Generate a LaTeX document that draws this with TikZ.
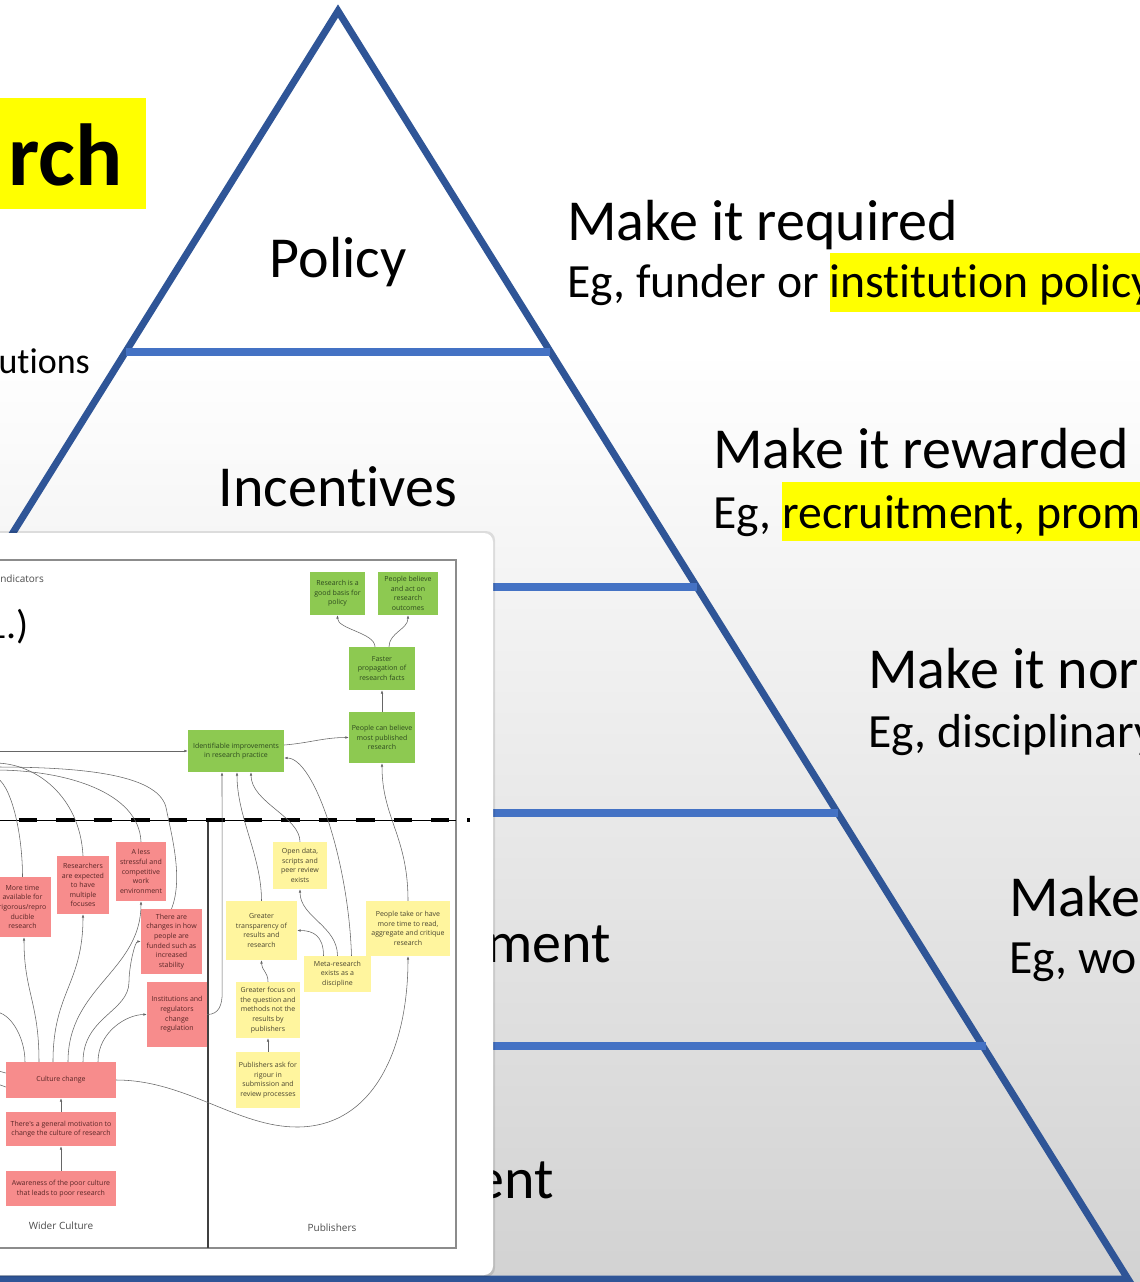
\documentclass[tikz,border=0pt]{standalone}
\usepackage{fontspec}
\usetikzlibrary{arrows.meta,calc}
\newfontfamily\slidefont[Ligatures={NoCommon,NoContextual}]{Carlito}
\newfontfamily\insetfont{Open Sans}
\definecolor{tridark}{HTML}{2F5597}
\definecolor{trilight}{HTML}{4472C4}
\definecolor{hl}{HTML}{FFFF00}
\definecolor{bgbot}{HTML}{D2D2D2}
\definecolor{gn}{HTML}{8DC951}
\definecolor{pk}{HTML}{F78C8C}
\definecolor{yl}{HTML}{FFF59E}
\definecolor{gntxt}{HTML}{2E4A1E}
\definecolor{pktxt}{HTML}{5A2626}
\definecolor{yltxt}{HTML}{4A4530}
\definecolor{lnc}{HTML}{666666}
\definecolor{framec}{HTML}{8C8C8C}
\begin{document}
\begin{tikzpicture}[x=1pt,y=1pt,
  box/.style={inner sep=0pt, align=center, font=\insetfont\fontsize{7}{9.6}\selectfont},
  wh/.style 2 args={minimum width=#1, minimum height=#2},
  gbox/.style={box, fill=gn, text=gntxt},
  pbox/.style={box, fill=pk, text=pktxt},
  ybox/.style={box, fill=yl, text=yltxt},
  arr/.style={draw=lnc, line width=0.55pt, -{Latex[length=3.4pt,width=2.6pt]}},
  conn/.style={draw=lnc, line width=0.55pt},
  big/.style={font=\slidefont\fontsize{58}{69}\selectfont, inner sep=0pt},
  mid/.style={font=\slidefont\fontsize{47.7}{57}\selectfont, inner sep=0pt},
  tri/.style={draw=tridark, line width=7pt, line join=miter},
  hbar/.style={draw=trilight, line width=7.5pt},
  frame/.style={draw=framec, line width=1.3pt},
  lbl/.style={font=\insetfont\fontsize{10}{12}\selectfont, text=black!70, inner sep=0pt},
]
\useasboundingbox (0,0) rectangle (1140,-1282);
\clip (0,0) rectangle (1140,-1282);
% background
\fill[white] (0,0) rectangle (1140,-1282);
\shade[top color=white, bottom color=bgbot] (0,-350) rectangle (1140,-1282);

% slide texts
\node[big, anchor=base] (tpolicy) at (338,-277) {Policy};
\node[big, anchor=base] (tincent) at (338,-506) {Incentives};
\node[big, anchor=base east] (tment) at (611,-962) {ment};
\node[big, anchor=base east] (tent) at (554,-1198) {ent};

\node[big, anchor=base west] (r1) at (567,-240) {Make it required};
\node[mid, anchor=base west] (e1) at (567,-297) {Eg, funder or};
\fill[hl] ([xshift=10.6pt,yshift=44pt]e1.base east) rectangle (1145,-312);
\node[mid, anchor=base west] (h1) at ([xshift=10.6pt]e1.base east) {institution policy};

\node[big, anchor=base west] (r2) at (713,-468) {Make it rewarded};
\node[mid, anchor=base west] (e2) at (713,-528) {Eg,};
\fill[hl] ([xshift=10.6pt,yshift=46pt]e2.base east) rectangle (1145,-541);
\node[mid, anchor=base west] (h2) at ([xshift=10.6pt]e2.base east) {recruitment, prom};

\node[big, anchor=base west] (r3) at (868,-688) {Make it nor};
\node[mid, anchor=base west] (e3) at (868,-747) {Eg, disciplinary};
\node[big, anchor=base west] (r4) at (1009,-916) {Make};
\node[mid, anchor=base west] (e4) at (1009,-973) {Eg, wor};

\fill[hl] (-5,-98) rectangle (146,-209);
\node[font=\slidefont\bfseries\fontsize{88}{100}\selectfont, anchor=base east, inner sep=0pt] (trch) at (123,-185) {rch};
\node[font=\slidefont\fontsize{36}{43}\selectfont, anchor=base east, inner sep=0pt] (tut) at (90,-373) {utions};

% pyramid
\draw[tri] (338,-11) -- (1128,-1279) -- (-452,-1279) -- cycle;
\draw[hbar] (125.6,-352) -- (550.4,-352);
\draw[hbar] (0,-587) -- (697,-587);
\draw[hbar] (0,-813) -- (838,-813);
\draw[hbar] (0,-1046) -- (986,-1046);

% inset panel
\fill[black, opacity=0.10, rounded corners=9pt] (-20,-531) rectangle (495,-1277);
\fill[white, rounded corners=9pt] (-20,-533) rectangle (493,-1275);
\draw[frame] (-5,-560) -- (456,-560) -- (456,-1248) -- (-5,-1248);
\draw[draw=black!75, line width=1.2pt] (208,-820) -- (208,-1248);
\draw[black, line width=0.8pt] (-5,-820) -- (456,-820);
\draw[black, line width=4pt, dash pattern=on 18.5pt off 19pt] (-19,-820) -- (449,-820);
\fill[black] (467,-818) rectangle (470,-822);

\node[lbl, anchor=base east] (tind) at (44,-582) {ndicators};
\node[font=\slidefont\fontsize{40}{48}\selectfont, anchor=base east, inner sep=0pt] (tone) at (29,-638) {1.)};
\node[lbl] (twider) at (61,-1226) {Wider Culture};
\node[lbl] (tpub) at (332,-1228) {Publishers};

% green nodes
\node[gbox, wh={55pt}{43pt}] (rbasis) at (337.5,-593.5) {Research is a\\good basis for\\policy};
\node[gbox, wh={60pt}{43pt}] (pbelieve) at (408,-593.5) {People believe\\and act on\\research\\outcomes};
\node[gbox, wh={66pt}{43pt}] (faster) at (382,-668.5) {Faster\\propagation of\\research facts};
\node[gbox, wh={66pt}{51pt}] (canbelieve) at (382,-737.5) {People can believe\\most published\\research};
\node[gbox, wh={96pt}{42pt}] (ident) at (236,-751) {Identifiable improvements\\in research practice};

% yellow nodes
\node[ybox, wh={54pt}{47pt}] (opendata) at (300,-865.5) {Open data,\\scripts and\\peer review\\exists};
\node[ybox, wh={71pt}{59pt}] (transp) at (261.5,-930.5) {Greater\\transparency of\\results and\\research};
\node[ybox, wh={67pt}{36pt}] (meta) at (337.5,-974) {Meta-research\\exists as a\\discipline};
\node[ybox, wh={84pt}{55pt}] (ptake) at (408,-928.5) {People take or have\\more time to read,\\aggregate and critique\\research};
\node[ybox, wh={64pt}{56pt}] (focus) at (268,-1010) {Greater focus on\\the question and\\methods not the\\results by\\publishers};
\node[ybox, wh={64pt}{56pt}] (pubask) at (268,-1080) {Publishers ask for\\rigour in\\submission and\\review processes};

% pink nodes
\node[pbox, wh={57pt}{60pt}] (moretime) at (22.5,-907) {More time\\available for\\rigorous/repro\\ducible\\research};
\node[pbox, wh={52pt}{58pt}] (expected) at (83,-885) {Researchers\\are expected\\to have\\multiple\\focuses};
\node[pbox, wh={50pt}{59pt}] (lessstress) at (141,-871.5) {A less\\stressful and\\competitive\\work\\environment};
\node[pbox, wh={61pt}{65pt}] (funded) at (171.5,-941.5) {There are\\changes in how\\people are\\funded such as\\increased\\stability};
\node[pbox, wh={60pt}{65pt}] (instreg) at (177,-1014.5) {Institutions and\\regulators\\change\\regulation};
\node[pbox, wh={110pt}{36pt}] (culture) at (61,-1080) {Culture change};
\node[pbox, wh={110pt}{34pt}] (motiv) at (61,-1129) {There's a general motivation to\\change the culture of research};
\node[pbox, wh={110pt}{35pt}] (aware) at (61,-1188.5) {Awareness of the poor culture\\that leads to poor research};

% connectors (upper area)
\draw[arr] ([xshift=-7pt]faster.north) .. controls +(0,14) and +(0,-14) .. (rbasis.south);
\draw[arr] ([xshift=7pt]faster.north) .. controls +(0,14) and +(0,-14) .. (pbelieve.south);
\draw[arr] (canbelieve.north) -- (faster.south);
\draw[arr] ([yshift=6pt]ident.east) .. controls +(25,2) and +(-25,0) .. (canbelieve.west);
\coordinate (lin) at (-5,-751);
\draw[arr] (lin) -- (ident.west);

% into Identifiable from below
\draw[arr] (instreg.east) .. controls +(12,0) and +(0,-12) .. ++(15,22) -- ([xshift=-14pt]ident.south);
\draw[arr] (transp.north) .. controls +(0,45) and +(0,-45) .. ([xshift=1pt]ident.south);
\draw[arr] (opendata.north) .. controls +(0,25) and +(0,-30) .. ([xshift=15pt]ident.south);
\draw[arr] ([xshift=14pt]meta.north) .. controls +(-3,95) and +(30,0) .. ([yshift=-7pt]ident.east);
\draw[arr] (ptake.north) .. controls +(0,65) and +(0,-55) .. (canbelieve.south);

% yellow area
\draw[arr] (meta.north) .. controls +(0,30) and +(0,-28) .. (opendata.south);
\draw[arr] ([xshift=-14pt]meta.north) .. controls +(0,20) and +(16,0) .. (transp.east);
\draw[arr] (focus.north) .. controls +(0,10) and +(0,-10) .. (transp.south);
\draw[arr] (pubask.north) -- (focus.south);
\coordinate (cvlow) at (297,-1127);
\draw[arr] (culture.east) .. controls +(70,0) and +(-60,0) .. (cvlow) .. controls +(75,0) and +(0,-95) .. (ptake.south);

% pink chain
\draw[arr] (aware.north) -- (motiv.south);
\draw[arr] (motiv.north) -- (culture.south);
\draw[arr] ([xshift=-22pt]culture.north) .. controls +(0,60) and +(0,-55) .. ([xshift=1.5pt]moretime.south);
\draw[arr] ([xshift=-8pt]culture.north) .. controls +(0,70) and +(0,-70) .. (expected.south);
\draw[arr] ([xshift=7pt]culture.north) .. controls +(0,75) and +(0,-70) .. (lessstress.south);
\draw[arr] ([xshift=22pt]culture.north) .. controls +(0,45) and +(0,-30) .. ++(46,80) .. controls +(0,15) and +(-6,0) .. (funded.west);
\draw[arr] ([xshift=37pt]culture.north) .. controls +(0,30) and +(-20,0) .. (instreg.west);
\coordinate (cl1) at (-5,-1012);
\draw[conn] ([xshift=-36pt]culture.north) .. controls +(0,25) and +(15,0) .. (cl1);
\coordinate (cl2) at (-5,-1070);
\coordinate (cl3) at (-5,-1083);
\draw[conn] ([yshift=7pt]culture.west) -- (cl2);
\draw[conn] ([yshift=-7pt]culture.west) -- (cl3);

% lines leaving to the left
\coordinate (ml1) at (-5,-777);
\coordinate (ml2) at (-5,-763);
\coordinate (ml3) at (-5,-770);
\coordinate (ml4) at (-5,-767);
\draw[conn] (moretime.north) .. controls +(0,47) and +(15,-5) .. (ml1);
\draw[conn] (expected.north) .. controls +(-3,60) and +(40,0) .. (ml2);
\draw[conn] (lessstress.north) .. controls +(-2,50) and +(70,0) .. (ml3);
\draw[conn] (funded.north) .. controls +(12,30) and +(5,-25) .. ++(-5,99) .. controls +(-5,35) and +(90,0) .. (ml4);
\end{tikzpicture}
\end{document}
